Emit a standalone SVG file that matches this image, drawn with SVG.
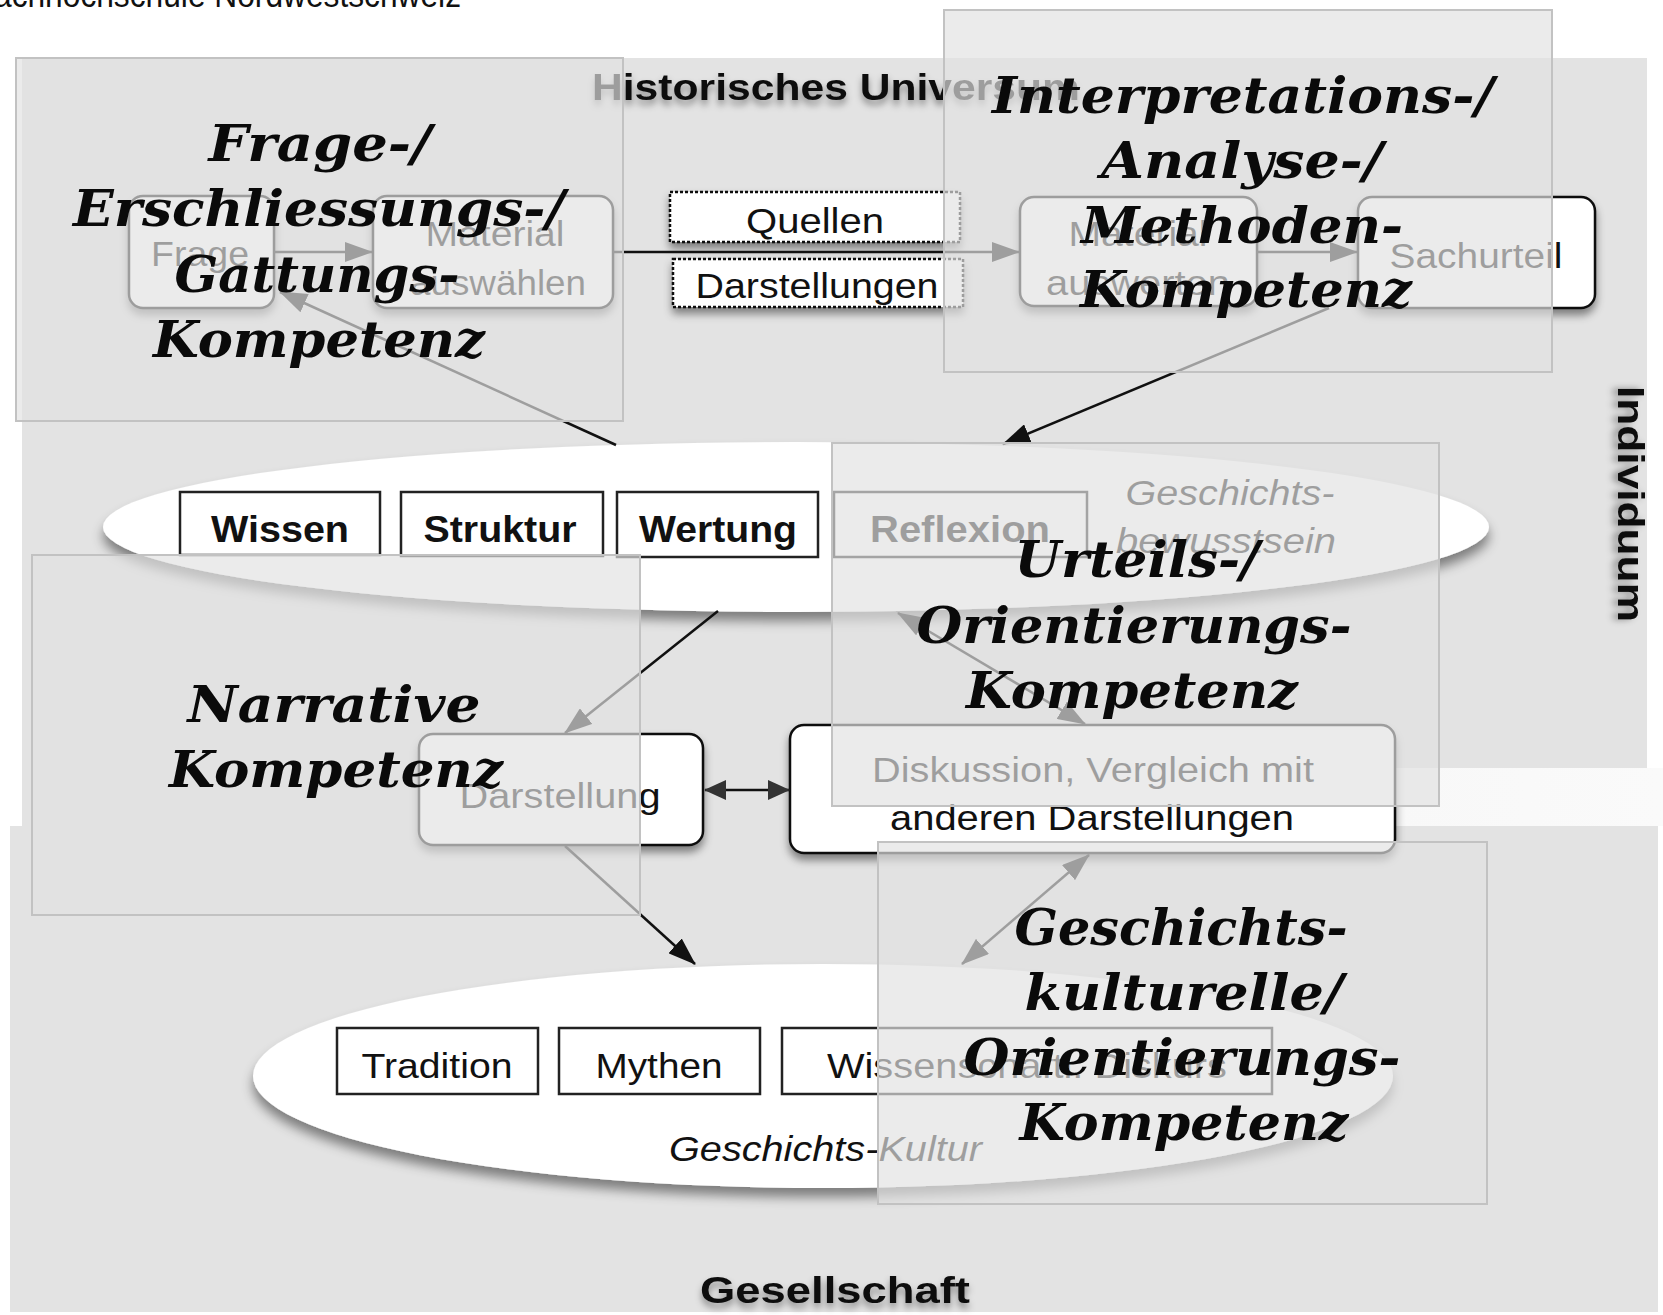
<svg xmlns="http://www.w3.org/2000/svg" width="1663" height="1315" viewBox="0 0 1663 1315">
<defs>
<style>
.sans{font-family:"Liberation Sans",Arial,sans-serif;font-size:35px;fill:#111}
.bold{font-weight:bold;font-size:36px}
.it{font-style:italic}
.mid{text-anchor:middle}
.komp{font-family:"DejaVu Serif","Liberation Serif",serif;font-weight:bold;font-style:italic;font-size:50px;fill:#0a0a0a;text-anchor:middle}
.proc{fill:#fff;stroke:#111;stroke-width:2.5;filter:url(#sh)}
.inbox{fill:#fff;stroke:#222;stroke-width:2.5}
.dot{fill:#fff;stroke:#111;stroke-width:2.5;stroke-dasharray:3 2;filter:url(#sh)}
.ov{fill:#e2e2e2;fill-opacity:0.68;stroke:#c2c2c2;stroke-width:2}
.con{fill:none;stroke:#111;stroke-width:2.5}
.band{fill:#e3e3e3}
.ell{fill:#fff;filter:url(#esh)}
.tsh{filter:url(#tsh)}
</style>
<filter id="sh" x="-20%" y="-20%" width="140%" height="160%"><feDropShadow dx="0" dy="6" stdDeviation="4" flood-color="#000" flood-opacity="0.45"/></filter>
<filter id="esh" x="-10%" y="-30%" width="120%" height="170%"><feDropShadow dx="0" dy="9" stdDeviation="6" flood-color="#000" flood-opacity="0.45"/></filter>
<filter id="tsh" x="-10%" y="-40%" width="120%" height="200%"><feDropShadow dx="0" dy="5" stdDeviation="3.5" flood-color="#000" flood-opacity="0.4"/></filter>
<marker id="ah" viewBox="0 0 28 20" refX="27" refY="10" markerWidth="28" markerHeight="20" markerUnits="userSpaceOnUse" orient="auto-start-reverse"><path d="M0,0 L28,10 L0,20 z" fill="#111"/></marker>
<marker id="ah2" viewBox="0 0 22 20" refX="21" refY="10" markerWidth="22" markerHeight="20" markerUnits="userSpaceOnUse" orient="auto-start-reverse"><path d="M0,0 L22,10 L0,20 z" fill="#333"/></marker>
<linearGradient id="gap" x1="0" x2="1" y1="0" y2="0"><stop offset="0" stop-color="#f8f8f8" stop-opacity="0"/><stop offset="0.35" stop-color="#f8f8f8" stop-opacity="1"/><stop offset="1" stop-color="#fafafa" stop-opacity="1"/></linearGradient>
</defs>

<rect width="1663" height="1315" fill="#fff"/>
<g id="background">
<rect class="band" x="22" y="58" width="1625" height="768"/>
<rect class="band" x="10" y="826" width="1648" height="486"/>
<rect x="1250" y="768" width="413" height="58" fill="url(#gap)"/>
</g>

<text class="sans" x="-6" y="7" font-size="30" textLength="467" lengthAdjust="spacingAndGlyphs">achhochschule Nordwestschweiz</text>

<g id="title-universum">
<text class="sans bold tsh" x="592" y="100" textLength="488" lengthAdjust="spacingAndGlyphs">Historisches Universum</text>
</g>
<g id="label-individuum" transform="translate(1618,504) rotate(90)">
<text class="sans bold mid tsh" x="0" y="0" textLength="236" lengthAdjust="spacingAndGlyphs">Individuum</text>
</g>
<g id="label-gesellschaft">
<text class="sans bold mid tsh" x="835" y="1303" textLength="270" lengthAdjust="spacingAndGlyphs">Gesellschaft</text>
</g>

<g id="ellipse-bewusstsein">
<ellipse class="ell" cx="796" cy="527" rx="693" ry="85"/>
<rect class="inbox" x="180" y="492" width="200" height="63"/>
<rect class="inbox" x="401" y="492" width="202" height="64"/>
<rect class="inbox" x="617" y="492" width="201" height="65"/>
<rect class="inbox" x="834" y="492" width="253" height="65"/>
<text class="sans bold mid" x="280" y="542" textLength="138" lengthAdjust="spacingAndGlyphs">Wissen</text>
<text class="sans bold mid" x="500" y="542" textLength="153" lengthAdjust="spacingAndGlyphs">Struktur</text>
<text class="sans bold mid" x="718" y="542" textLength="158" lengthAdjust="spacingAndGlyphs">Wertung</text>
<text class="sans bold mid" x="960" y="542" textLength="180" lengthAdjust="spacingAndGlyphs">Reflexion</text>
<text class="sans it mid" x="1230" y="505" textLength="209" lengthAdjust="spacingAndGlyphs">Geschichts-</text>
<text class="sans it mid" x="1226" y="553" textLength="220" lengthAdjust="spacingAndGlyphs">bewusstsein</text>
</g>

<g id="ellipse-kultur">
<ellipse class="ell" cx="823" cy="1076" rx="570" ry="112"/>
<rect class="inbox" x="337" y="1028" width="201" height="66"/>
<rect class="inbox" x="559" y="1028" width="201" height="66"/>
<rect class="inbox" x="782" y="1028" width="490" height="66"/>
<text class="sans mid" x="437" y="1078" textLength="151" lengthAdjust="spacingAndGlyphs">Tradition</text>
<text class="sans mid" x="659" y="1078" textLength="127" lengthAdjust="spacingAndGlyphs">Mythen</text>
<text class="sans mid" x="1027" y="1078" textLength="400" lengthAdjust="spacingAndGlyphs">Wissenschaftl. Diskurs</text>
<text class="sans it" x="669" y="1161" textLength="313" lengthAdjust="spacingAndGlyphs">Geschichts-Kultur</text>
</g>

<g id="node-frage">
<rect class="proc" x="129" y="196" width="145" height="112" rx="14"/>
<text class="sans mid" x="200" y="266" textLength="98" lengthAdjust="spacingAndGlyphs">Frage</text>
</g>
<g id="node-material-auswaehlen">
<rect class="proc" x="373" y="196" width="240" height="112" rx="14"/>
<text class="sans mid" x="495" y="246" textLength="139" lengthAdjust="spacingAndGlyphs">Material</text>
<text class="sans mid" x="498" y="295" textLength="176" lengthAdjust="spacingAndGlyphs">auswählen</text>
</g>
<g id="node-quellen">
<rect class="dot" x="670" y="192" width="290" height="50"/>
<text class="sans mid" x="815" y="233" textLength="138" lengthAdjust="spacingAndGlyphs">Quellen</text>
</g>
<g id="node-darstellungen">
<rect class="dot" x="673" y="259" width="290" height="48"/>
<text class="sans mid" x="817" y="298" textLength="243" lengthAdjust="spacingAndGlyphs">Darstellungen</text>
</g>
<g id="node-material-auswerten">
<rect class="proc" x="1020" y="197" width="237" height="109" rx="14"/>
<text class="sans mid" x="1138" y="246" textLength="139" lengthAdjust="spacingAndGlyphs">Material</text>
<text class="sans mid" x="1138" y="295" textLength="184" lengthAdjust="spacingAndGlyphs">auswerten</text>
</g>
<g id="node-sachurteil">
<rect class="proc" x="1358" y="197" width="237" height="111" rx="14"/>
<text class="sans mid" x="1476" y="268" textLength="173" lengthAdjust="spacingAndGlyphs">Sachurteil</text>
</g>
<g id="node-darstellung">
<rect class="proc" x="419" y="734" width="284" height="111" rx="14"/>
<text class="sans mid" x="560" y="808" textLength="201" lengthAdjust="spacingAndGlyphs">Darstellung</text>
</g>
<g id="node-diskussion">
<rect class="proc" x="790" y="725" width="605" height="128" rx="14"/>
<text class="sans mid" x="1093" y="782" textLength="442" lengthAdjust="spacingAndGlyphs">Diskussion, Vergleich mit</text>
<text class="sans mid" x="1092" y="830" textLength="404" lengthAdjust="spacingAndGlyphs">anderen Darstellungen</text>
</g>

<g id="connectors">
<line class="con" x1="274" y1="252" x2="372" y2="252" marker-end="url(#ah)"/>
<line class="con" x1="613" y1="252" x2="1019" y2="252" stroke-width="3" marker-end="url(#ah)"/>
<line class="con" x1="1257" y1="252" x2="1357" y2="252" marker-end="url(#ah)"/>
<line class="con" x1="1329" y1="308" x2="1003" y2="444" marker-end="url(#ah)"/>
<line class="con" x1="616" y1="445" x2="280" y2="292" marker-end="url(#ah)"/>
<line class="con" x1="718" y1="611" x2="565" y2="733" marker-end="url(#ah)"/>
<line class="con" x1="705" y1="790" x2="789" y2="790" stroke="#333" stroke-width="4" marker-start="url(#ah2)" marker-end="url(#ah2)"/>
<line class="con" x1="898" y1="613" x2="1085" y2="724" marker-start="url(#ah)" marker-end="url(#ah)"/>
<line class="con" x1="565" y1="846" x2="695" y2="964" marker-end="url(#ah)"/>
<line class="con" x1="1089" y1="855" x2="962" y2="964" marker-start="url(#ah)" marker-end="url(#ah)"/>
</g>

<g id="komp-frage">
<rect class="ov" x="16" y="58" width="607" height="363"/>
<text class="komp" x="320" y="161" textLength="223" lengthAdjust="spacingAndGlyphs">Frage-/</text>
<text class="komp" x="319" y="226" textLength="492" lengthAdjust="spacingAndGlyphs">Erschliessungs-/</text>
<text class="komp" x="317" y="292" textLength="285" lengthAdjust="spacingAndGlyphs">Gattungs-</text>
<text class="komp" x="319" y="357" textLength="332" lengthAdjust="spacingAndGlyphs">Kompetenz</text>
</g>
<g id="komp-interpretation">
<rect class="ov" x="944" y="10" width="608" height="362"/>
<text class="komp" x="1243" y="113" textLength="502" lengthAdjust="spacingAndGlyphs">Interpretations-/</text>
<text class="komp" x="1242" y="178" textLength="282" lengthAdjust="spacingAndGlyphs">Analyse-/</text>
<text class="komp" x="1242" y="243" textLength="322" lengthAdjust="spacingAndGlyphs">Methoden-</text>
<text class="komp" x="1246" y="307" textLength="332" lengthAdjust="spacingAndGlyphs">Kompetenz</text>
</g>
<g id="komp-urteil">
<rect class="ov" x="832" y="443" width="607" height="363"/>
<text class="komp" x="1137" y="577" textLength="245" lengthAdjust="spacingAndGlyphs">Urteils-/</text>
<text class="komp" x="1134" y="643" textLength="435" lengthAdjust="spacingAndGlyphs">Orientierungs-</text>
<text class="komp" x="1132" y="708" textLength="332" lengthAdjust="spacingAndGlyphs">Kompetenz</text>
</g>
<g id="komp-narrativ">
<rect class="ov" x="32" y="555" width="608" height="360"/>
<text class="komp" x="334" y="722" textLength="293" lengthAdjust="spacingAndGlyphs">Narrative</text>
<text class="komp" x="336" y="787" textLength="334" lengthAdjust="spacingAndGlyphs">Kompetenz</text>
</g>
<g id="komp-geschichtskultur">
<rect class="ov" x="878" y="842" width="609" height="362"/>
<text class="komp" x="1181" y="945" textLength="333" lengthAdjust="spacingAndGlyphs">Geschichts-</text>
<text class="komp" x="1184" y="1010" textLength="319" lengthAdjust="spacingAndGlyphs">kulturelle/</text>
<text class="komp" x="1182" y="1075" textLength="437" lengthAdjust="spacingAndGlyphs">Orientierungs-</text>
<text class="komp" x="1184" y="1140" textLength="329" lengthAdjust="spacingAndGlyphs">Kompetenz</text>
</g>
</svg>
